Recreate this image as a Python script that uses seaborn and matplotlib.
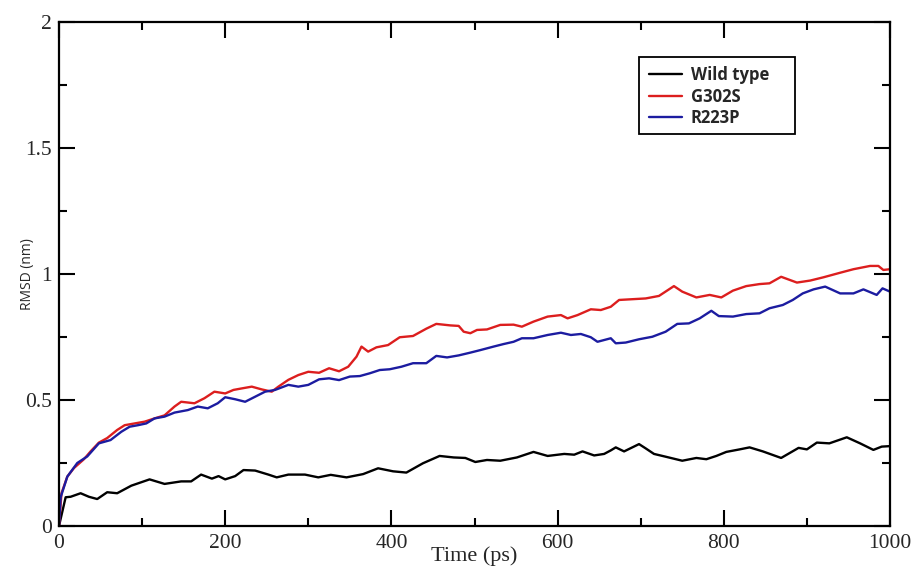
import matplotlib
matplotlib.use("Agg")
import matplotlib.pyplot as plt
import seaborn as sns
import pandas as pd
from matplotlib.lines import Line2D
from matplotlib.patches import Rectangle

# ---- data ----
series_names = ["Wild type", "G302S", "R223P"]
series_colors = ["#000000", "#dc1e1e", "#1c1ca0"]

wt_t = [0, 8, 14, 26, 36, 46, 58, 70, 87, 109, 127, 147, 159, 171, 184, 192, 200, 212, 222, 236,
        252, 262, 276, 296, 312, 327, 346, 366, 384, 402, 418, 438, 458, 475, 489, 501, 515, 531, 551, 571,
        588, 608, 620, 630, 644, 656, 664, 670, 680, 698, 706, 716, 730, 750, 767, 779, 791, 803, 819, 831,
        847, 869, 890, 900, 912, 927, 948, 964, 980, 990, 1000]
wt_y = [0, 0.114, 0.116, 0.13, 0.116, 0.107, 0.134, 0.13, 0.16, 0.185, 0.167, 0.177, 0.177, 0.204, 0.188, 0.198, 0.185, 0.198, 0.222, 0.22,
        0.204, 0.193, 0.204, 0.204, 0.193, 0.203, 0.193, 0.206, 0.229, 0.217, 0.212, 0.249, 0.278, 0.272, 0.27, 0.254, 0.262, 0.259, 0.272, 0.294,
        0.278, 0.286, 0.283, 0.296, 0.28, 0.286, 0.30, 0.312, 0.296, 0.325, 0.308, 0.286, 0.275, 0.259, 0.27, 0.265, 0.278, 0.294, 0.304, 0.312,
        0.296, 0.27, 0.31, 0.304, 0.331, 0.328, 0.352, 0.328, 0.302, 0.315, 0.317]

g302s_t = [0, 3, 10, 18, 30, 38, 48, 58, 70, 79, 91, 103, 115, 127, 139, 147, 163, 175, 187, 200,
           210, 220, 232, 244, 256, 264, 276, 288, 300, 313, 325, 337, 348, 358, 364, 372, 382, 396, 410, 426,
           442, 454, 471, 481, 487, 495, 503, 515, 531, 547, 557, 571, 588, 604, 612, 624, 640, 652, 664, 674,
           690, 706, 722, 740, 750, 767, 783, 797, 811, 827, 843, 855, 869, 888, 904, 920, 940, 956, 976, 986,
           992, 1000]
g302s_y = [0, 0.13, 0.196, 0.23, 0.265, 0.296, 0.331, 0.349, 0.381, 0.40, 0.407, 0.414, 0.427, 0.439, 0.474, 0.493, 0.487, 0.507, 0.533, 0.526,
           0.54, 0.546, 0.553, 0.542, 0.533, 0.553, 0.58, 0.599, 0.612, 0.608, 0.626, 0.614, 0.632, 0.672, 0.712, 0.692, 0.709, 0.718, 0.749, 0.754,
           0.783, 0.802, 0.796, 0.794, 0.771, 0.765, 0.778, 0.78, 0.798, 0.799, 0.791, 0.811, 0.831, 0.837, 0.824, 0.837, 0.86, 0.857, 0.87, 0.897,
           0.9, 0.903, 0.913, 0.952, 0.93, 0.907, 0.917, 0.907, 0.934, 0.952, 0.96, 0.963, 0.989, 0.966, 0.974, 0.987, 1.005, 1.019, 1.032, 1.032,
           1.016, 1.019]

r223p_t = [0, 2, 10, 22, 34, 48, 62, 75, 85, 95, 105, 115, 127, 139, 155, 167, 179, 191, 200, 212,
           224, 236, 248, 260, 276, 288, 300, 313, 325, 337, 350, 362, 374, 386, 398, 412, 426, 442, 454, 467,
           481, 495, 507, 523, 535, 547, 557, 571, 588, 604, 616, 628, 640, 648, 664, 670, 682, 698, 714, 730,
           744, 758, 771, 785, 794, 811, 827, 843, 855, 871, 883, 895, 908, 922, 940, 956, 968, 984, 991, 1000]
r223p_y = [0, 0.114, 0.196, 0.25, 0.276, 0.328, 0.341, 0.374, 0.394, 0.40, 0.407, 0.427, 0.434, 0.45, 0.46, 0.474, 0.467, 0.487, 0.511, 0.503,
           0.493, 0.513, 0.533, 0.54, 0.56, 0.553, 0.56, 0.582, 0.586, 0.579, 0.593, 0.595, 0.606, 0.619, 0.622, 0.632, 0.646, 0.646, 0.675, 0.669,
           0.677, 0.688, 0.698, 0.712, 0.722, 0.731, 0.745, 0.745, 0.758, 0.767, 0.758, 0.762, 0.749, 0.731, 0.745, 0.725, 0.728, 0.741, 0.751, 0.771,
           0.802, 0.804, 0.824, 0.854, 0.833, 0.831, 0.841, 0.844, 0.864, 0.877, 0.897, 0.923, 0.939, 0.95, 0.923, 0.923, 0.939, 0.917, 0.943, 0.93]

x_ticks = [0, 200, 400, 600, 800, 1000]
y_ticks = [0, 0.5, 1, 1.5, 2]
y_tick_labels = ["0", "0.5", "1", "1.5", "2"]

# ---- build long-form table ----
frames = []
for name, t, y in [(series_names[0], wt_t, wt_y),
                   (series_names[1], g302s_t, g302s_y),
                   (series_names[2], r223p_t, r223p_y)]:
    frames.append(pd.DataFrame({"time": t, "rmsd": y, "series": name}))
df = pd.concat(frames, ignore_index=True)

sns.set_style("ticks")
plt.rcParams["font.family"] = ["Liberation Serif", "DejaVu Serif"]

fig = plt.figure(figsize=(9.18, 5.71), dpi=100)
ax = fig.add_axes([59 / 918, 45 / 571, 831 / 918, 504 / 571])

palette = dict(zip(series_names, series_colors))
sns.lineplot(data=df, x="time", y="rmsd", hue="series", hue_order=series_names,
             palette=palette, estimator=None, sort=False, linewidth=1.7,
             legend=False, ax=ax)

ax.set_xlim(0, 1000)
ax.set_ylim(0, 2)
ax.set_xticks(x_ticks)
ax.set_xticks(range(100, 1000, 200), minor=True)
ax.set_yticks(y_ticks)
ax.set_yticklabels(y_tick_labels)
ax.set_yticks([0.25, 0.75, 1.25, 1.75], minor=True)

for s in ax.spines.values():
    s.set_linewidth(1.6)
    s.set_color("black")

ax.tick_params(which="both", direction="in", top=True, right=True,
               labeltop=False, labelright=False, color="black", width=1.5)
ax.tick_params(which="major", length=11.5, labelsize=15.5, pad=5)
ax.tick_params(which="minor", length=6)
ax.tick_params(axis="x", which="major", pad=6)

ax.set_xlabel("Time (ps)", fontsize=16, labelpad=-5, family=["Liberation Serif"])
ax.set_ylabel("RMSD (nm)", fontsize=10, family=["Open Sans", "DejaVu Sans"])
ax.yaxis.set_label_coords(-0.029, 0.5)

# legend frame drawn as a box in axes coordinates
frame = Rectangle((0.698, 0.778), 0.188, 0.153, transform=ax.transAxes,
                  facecolor="white", edgecolor="black", linewidth=1.3, zorder=5)
ax.add_patch(frame)

handles = [Line2D([0], [0], color=c, lw=1.7) for c in series_colors]
leg = ax.legend(handles, series_names, loc="upper left",
                bbox_to_anchor=(0.710, 0.913), bbox_transform=ax.transAxes,
                borderaxespad=0, frameon=False,
                prop={"family": "Open Sans", "weight": "bold", "size": 12},
                handlelength=2.0, handletextpad=0.5, labelspacing=0.22,
                borderpad=0)
leg.set_zorder(6)

fig.savefig("out.png", dpi=100)
